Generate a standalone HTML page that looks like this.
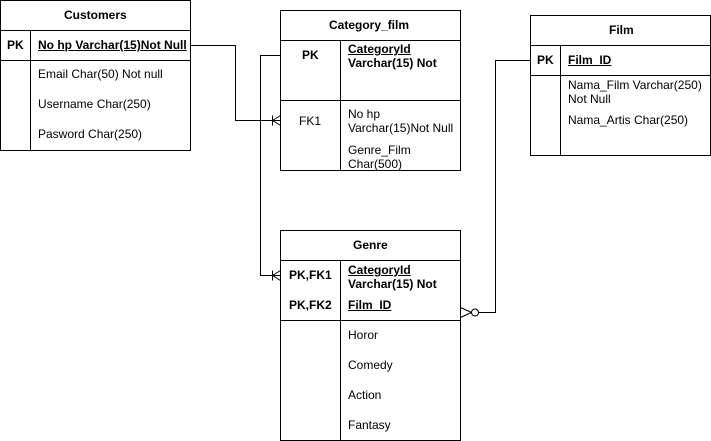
<!DOCTYPE html><html><head><style>
body{margin:0;width:711px;height:441px;background:#fff;font-family:"Liberation Sans",Arial,sans-serif;font-size:12px;color:#000;position:relative;overflow:hidden}
.t{position:absolute;white-space:nowrap;line-height:14px}
.b{font-weight:bold}.u{text-decoration:underline}
</style></head><body>
<svg width="711" height="441" style="position:absolute;left:0;top:0" fill="none" stroke="#000" stroke-width="1">
<g transform="translate(0.5,0.5)">
<rect x="0" y="0" width="190" height="150"/><line x1="0" y1="30" x2="190" y2="30"/><line x1="0" y1="60" x2="190" y2="60"/><line x1="30" y1="30" x2="30" y2="150"/>
<rect x="280" y="10" width="180" height="160"/><line x1="280" y1="40" x2="460" y2="40"/><line x1="280" y1="100" x2="460" y2="100"/><line x1="340" y1="40" x2="340" y2="170"/>
<rect x="530" y="15" width="180" height="140"/><line x1="530" y1="45" x2="710" y2="45"/><line x1="530" y1="75" x2="710" y2="75"/><line x1="560" y1="45" x2="560" y2="155"/>
<rect x="280" y="230" width="180" height="210"/><line x1="280" y1="260" x2="460" y2="260"/><line x1="280" y1="320" x2="460" y2="320"/><line x1="340" y1="260" x2="340" y2="440"/>
<polyline points="190,45 235,45 235,120 280,120"/><line x1="272" y1="115" x2="272" y2="125"/><line x1="272" y1="120" x2="280" y2="115"/><line x1="272" y1="120" x2="280" y2="125"/>
<polyline points="280,55 260,55 260,275 280,275"/><line x1="272" y1="270" x2="272" y2="280"/><line x1="272" y1="275" x2="280" y2="270"/><line x1="272" y1="275" x2="280" y2="280"/>
<polyline points="530,60 495,60 495,312 478,312"/><circle cx="474.5" cy="312" r="3.5"/><line x1="460" y1="307" x2="471" y2="312"/><line x1="460" y1="317" x2="471" y2="312"/>
</g></svg>
<div class="t b" style="left:64px;top:8px">Customers</div>
<div class="t b" style="left:7px;top:38px">PK</div>
<div class="t b u" style="left:38px;top:38px">No hp Varchar(15)Not Null</div>
<div class="t" style="left:38px;top:67px">Email Char(50) Not null</div>
<div class="t" style="left:38px;top:97px">Username Char(250)</div>
<div class="t" style="left:38px;top:127px">Pasword Char(250)</div>
<div class="t b" style="left:329px;top:18px">Category_film</div>
<div class="t b" style="left:302px;top:48px">PK</div>
<div class="t b" style="left:348px;top:42px"><span class="u">CategoryId</span><br>Varchar(15) Not</div>
<div class="t" style="left:299px;top:114px">FK1</div>
<div class="t" style="left:348px;top:107px">No hp<br>Varchar(15)Not Null</div>
<div class="t" style="left:348px;top:143px">Genre_Film<br>Char(500)</div>
<div class="t b" style="left:609px;top:23px">Film</div>
<div class="t b" style="left:537px;top:53px">PK</div>
<div class="t b u" style="left:568px;top:53px">Film_ID</div>
<div class="t" style="left:568px;top:78px">Nama_Film Varchar(250)<br>Not Null</div>
<div class="t" style="left:568px;top:113px">Nama_Artis Char(250)</div>
<div class="t b" style="left:353px;top:238px">Genre</div>
<div class="t b" style="left:289px;top:268px">PK,FK1</div>
<div class="t b" style="left:348px;top:263px"><span class="u">CategoryId</span><br>Varchar(15) Not</div>
<div class="t b" style="left:289px;top:298px">PK,FK2</div>
<div class="t b u" style="left:348px;top:298px">Film_ID</div>
<div class="t" style="left:348px;top:328px">Horor</div>
<div class="t" style="left:348px;top:358px">Comedy</div>
<div class="t" style="left:348px;top:388px">Action</div>
<div class="t" style="left:348px;top:418px">Fantasy</div>
</body></html>
